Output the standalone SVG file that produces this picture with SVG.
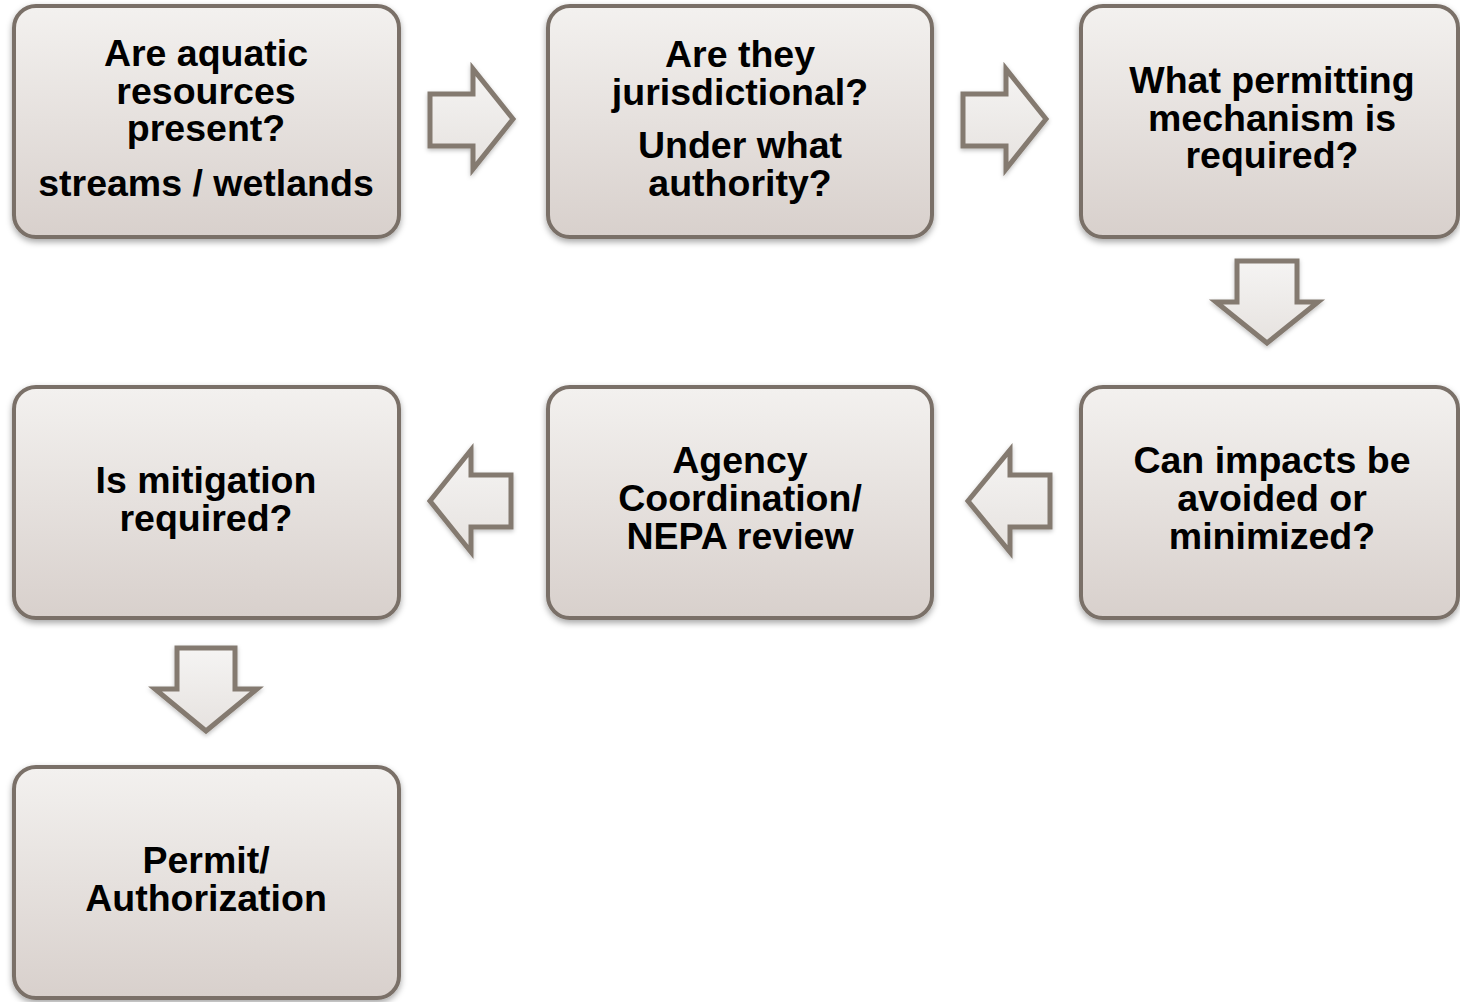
<svg xmlns="http://www.w3.org/2000/svg" width="1460" height="1002" viewBox="0 0 1460 1002">
<defs>
<linearGradient id="boxg" x1="0" y1="0" x2="0" y2="1">
<stop offset="0" stop-color="#f3f1ef"/>
<stop offset="1" stop-color="#d8d0cc"/>
</linearGradient>
<linearGradient id="arrg" x1="0" y1="0" x2="0" y2="1">
<stop offset="0" stop-color="#f5f4f3"/>
<stop offset="1" stop-color="#e6e2df"/>
</linearGradient>
<filter id="sh" x="-10%" y="-10%" width="120%" height="125%">
<feDropShadow dx="0" dy="3" stdDeviation="3" flood-color="#000" flood-opacity="0.35"/>
</filter>
<filter id="ash" x="-20%" y="-20%" width="140%" height="150%">
<feDropShadow dx="0" dy="2" stdDeviation="2" flood-color="#000" flood-opacity="0.25"/>
</filter>
</defs>
<style>
.box{fill:url(#boxg);stroke:#7a7067;stroke-width:4;filter:url(#sh)}
.arr{fill:url(#arrg);stroke:#847a70;stroke-width:5;stroke-linejoin:miter;filter:url(#ash)}
.t{font-family:"Liberation Sans",Arial,sans-serif;font-weight:bold;font-size:37.5px;fill:#000;text-anchor:middle}
</style>
<rect width="1460" height="1002" fill="#fff"/>
<g id="connectors">
<path class="arr" d="M430,94 H473 V69 L513,119 L473,169 V146 H430 Z"/>
<path class="arr" d="M963,94 H1006 V69 L1046,119 L1006,169 V146 H963 Z"/>
<path class="arr" d="M1237,261 V302 H1216 L1267,343 L1318,302 H1297 V261 Z"/>
<path class="arr" d="M1050,475 H1010 V450 L968,501 L1010,552 V527 H1050 Z"/>
<path class="arr" d="M511,475 H471 V450 L430,501 L471,552 V527 H511 Z"/>
<path class="arr" d="M177,648 V689 H155 L206,731 L257,689 H235 V648 Z"/>
</g>
<g id="n1">
<rect class="box" x="14" y="6" width="385" height="231" rx="22"/>
<text class="t" x="206" y="66">Are aquatic</text>
<text class="t" x="206" y="104">resources</text>
<text class="t" x="206" y="141">present?</text>
<text class="t" x="206" y="196">streams / wetlands</text>
</g>
<g id="n2">
<rect class="box" x="548" y="6" width="384" height="231" rx="22"/>
<text class="t" x="740" y="67">Are they</text>
<text class="t" x="740" y="105">jurisdictional?</text>
<text class="t" x="740" y="158">Under what</text>
<text class="t" x="740" y="196">authority?</text>
</g>
<g id="n3">
<rect class="box" x="1081" y="6" width="377" height="231" rx="22"/>
<text class="t" x="1272" y="93">What permitting</text>
<text class="t" x="1272" y="131">mechanism is</text>
<text class="t" x="1272" y="168">required?</text>
</g>
<g id="n4">
<rect class="box" x="1081" y="387" width="377" height="231" rx="22"/>
<text class="t" x="1272" y="473">Can impacts be</text>
<text class="t" x="1272" y="511">avoided or</text>
<text class="t" x="1272" y="549">minimized?</text>
</g>
<g id="n5">
<rect class="box" x="548" y="387" width="384" height="231" rx="22"/>
<text class="t" x="740" y="473">Agency</text>
<text class="t" x="740" y="511">Coordination/</text>
<text class="t" x="740" y="549">NEPA review</text>
</g>
<g id="n6">
<rect class="box" x="14" y="387" width="385" height="231" rx="22"/>
<text class="t" x="206" y="493">Is mitigation</text>
<text class="t" x="206" y="531">required?</text>
</g>
<g id="n7">
<rect class="box" x="14" y="767" width="385" height="231" rx="22"/>
<text class="t" x="206" y="873">Permit/</text>
<text class="t" x="206" y="911">Authorization</text>
</g>
</svg>
